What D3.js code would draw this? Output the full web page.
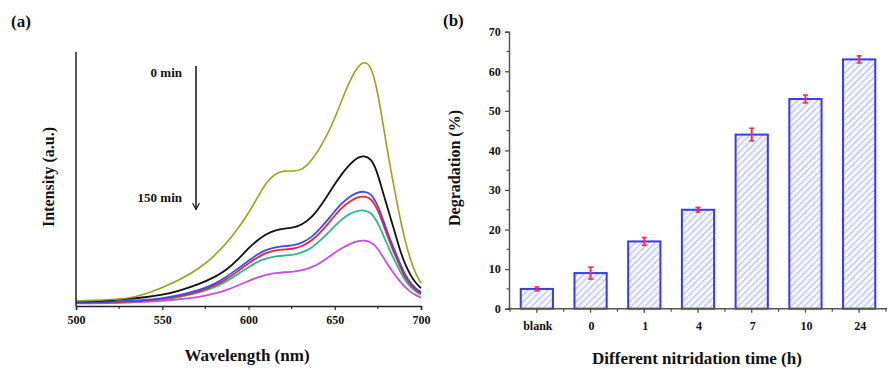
<!DOCTYPE html>
<html><head><meta charset="utf-8">
<script src="https://cdn.jsdelivr.net/npm/d3@7"></script>
<style>body{margin:0;background:#fff}svg{display:block}svg text{font-family:"Liberation Serif","Times New Roman","DejaVu Serif",serif !important;font-weight:bold;fill:#111}</style>
</head><body><svg id="c" width="891" height="374"></svg>
<script>
// ---- Panel (a): emission spectra ----
const wavelengths = [500,510,520,530,540,550,560,572,580,587,594,600,605,610,616,621,626,631,637,643,649,654,659,663,667,671,674,677,680,684,688,691,694,697,700];
const spectrumLabels = ["0 min","30 min","60 min","90 min","120 min","150 min"];
const spectrumColors = ["#9aa21c","#111111","#3b4cf0","#ef2436","#2fb88e","#c84ee0"];
const s0   = [0.020,0.022,0.025,0.030,0.045,0.072,0.102,0.150,0.196,0.245,0.305,0.365,0.425,0.485,0.525,0.533,0.530,0.535,0.575,0.640,0.720,0.810,0.890,0.940,0.965,0.945,0.870,0.760,0.630,0.480,0.340,0.250,0.180,0.125,0.090];
const s30  = [0.018,0.019,0.022,0.028,0.034,0.043,0.060,0.088,0.112,0.140,0.183,0.228,0.258,0.283,0.300,0.305,0.308,0.320,0.350,0.405,0.470,0.520,0.560,0.585,0.592,0.580,0.540,0.470,0.400,0.310,0.215,0.160,0.120,0.090,0.070];
const s60  = [0.014,0.015,0.016,0.020,0.024,0.030,0.042,0.063,0.085,0.113,0.148,0.178,0.203,0.221,0.232,0.236,0.238,0.248,0.272,0.315,0.365,0.405,0.432,0.447,0.452,0.442,0.410,0.360,0.300,0.230,0.165,0.120,0.090,0.068,0.055];
const s90  = [0.012,0.013,0.014,0.017,0.021,0.027,0.038,0.058,0.078,0.104,0.138,0.168,0.191,0.209,0.220,0.223,0.225,0.235,0.258,0.298,0.348,0.388,0.413,0.428,0.433,0.423,0.392,0.343,0.285,0.215,0.153,0.110,0.082,0.062,0.050];
const s120 = [0.011,0.012,0.013,0.016,0.020,0.025,0.035,0.053,0.072,0.096,0.126,0.153,0.173,0.187,0.196,0.199,0.201,0.210,0.230,0.266,0.308,0.342,0.365,0.375,0.378,0.368,0.340,0.298,0.248,0.188,0.135,0.098,0.074,0.056,0.045];
const s150 = [0.010,0.010,0.011,0.013,0.016,0.020,0.026,0.036,0.048,0.062,0.081,0.099,0.112,0.123,0.130,0.133,0.135,0.140,0.152,0.175,0.205,0.228,0.245,0.255,0.259,0.252,0.234,0.205,0.170,0.130,0.095,0.072,0.055,0.042,0.033];
const spectra = [s0,s30,s60,s90,s120,s150];
const wlTicks = [500,550,600,650,700];
const wlMinorTicks = [525,575,625,675];

// ---- Panel (b): degradation bars ----
const categories = ["blank","0","1","4","7","10","24"];
const degradation = [5,9,17,25,44,53,63];
const degradationErr = [0.5,1.5,1.0,0.6,1.6,1.0,0.9];
const degTicks = [0,10,20,30,40,50,60,70];
const degMinorTicks = [5,15,25,35,45,55,65];

const FONT = "Liberation Serif, Times New Roman, DejaVu Serif, serif";
const svg = d3.select("#c");
const defs = svg.append("defs");
const pat = defs.append("pattern").attr("id","hatch").attr("patternUnits","userSpaceOnUse")
  .attr("width",4.7).attr("height",4.7).attr("patternTransform","rotate(45)");
pat.append("rect").attr("width",4.7).attr("height",4.7).attr("fill","#f4f4ff");
pat.append("line").attr("x1",0).attr("y1",0).attr("x2",0).attr("y2",4.7)
  .attr("stroke","#8e8ef0").attr("stroke-width",1.1);

// ===== Panel (a) =====
const xa = d3.scaleLinear().domain([500,700]).range([76,421]);
const ya = d3.scaleLinear().domain([0,1]).range([306,52]);
const ga = svg.append("g");
const line = d3.line().x((d,i)=>xa(wavelengths[i])).y(d=>ya(d)).curve(d3.curveBasis);
spectra.slice().reverse().forEach((s,ri)=>{
  const i = spectra.length-1-ri;
  ga.append("path").attr("d",line(s)).attr("fill","none")
    .attr("stroke",spectrumColors[i]).attr("stroke-width",i===0?1.6:1.8);
});
// axes
const xAxisA = d3.axisBottom(xa).tickValues(wlTicks).tickSize(4).tickFormat(d3.format("d"));
const gxa = ga.append("g").attr("transform","translate(0,306)").call(xAxisA).attr("font-family",FONT);
gxa.select(".domain").attr("stroke","#222").attr("stroke-width",1.5);
gxa.selectAll(".tick line").attr("stroke","#222").attr("stroke-width",1.2);
gxa.selectAll(".tick text").attr("font-size",12).attr("dy","0.9em").attr("fill","#111").attr("font-weight","bold");
gxa.selectAll(".minor").data(wlMinorTicks).enter().append("line")
  .attr("x1",d=>xa(d)).attr("x2",d=>xa(d)).attr("y1",0).attr("y2",3).attr("stroke","#222").attr("stroke-width",1.1);
ga.append("line").attr("x1",76).attr("x2",76).attr("y1",52).attr("y2",306).attr("stroke","#222").attr("stroke-width",1.5);
ga.append("text").attr("x",247).attr("y",361).attr("text-anchor","middle").attr("font-size",17).text("Wavelength (nm)");
ga.append("text").attr("transform","translate(54,177) rotate(-90)").attr("text-anchor","middle").attr("font-size",16).text("Intensity (a.u.)");
ga.append("text").attr("x",11).attr("y",27).attr("font-size",17).text("(a)");
ga.append("text").attr("x",182).attr("y",77).attr("text-anchor","end").attr("font-size",13).text(spectrumLabels[0]);
ga.append("text").attr("x",182).attr("y",202).attr("text-anchor","end").attr("font-size",13).text(spectrumLabels[5]);
// arrow
defs.append("marker").attr("id","arr").attr("viewBox","0 0 10 10").attr("refX",9).attr("refY",5)
  .attr("markerWidth",7).attr("markerHeight",9).attr("orient","auto").attr("markerUnits","userSpaceOnUse")
  .append("path").attr("d","M0,0 L10,5 L0,10").attr("fill","none").attr("stroke","#111").attr("stroke-width",1.6);
ga.append("line").attr("x1",196).attr("x2",196).attr("y1",66).attr("y2",209).attr("stroke","#111").attr("stroke-width",1.5).attr("marker-end","url(#arr)");

// ===== Panel (b) =====
const xb = d3.scaleBand().domain(categories).range([510,886]).padding(0);
const yb = d3.scaleLinear().domain([0,70]).range([308.7,31.7]);
const gb = svg.append("g");
const bw = xb.bandwidth()*0.6;
gb.selectAll(".bar").data(degradation).enter().append("rect")
  .attr("x",(d,i)=>xb(categories[i])+xb.bandwidth()/2-bw/2)
  .attr("y",d=>yb(d)).attr("width",bw).attr("height",d=>yb(0)-yb(d))
  .attr("fill","url(#hatch)").attr("stroke","#3a3af0").attr("stroke-width",2);
// error bars
const eb = gb.selectAll(".err").data(degradation).enter().append("g")
  .attr("transform",(d,i)=>`translate(${xb(categories[i])+xb.bandwidth()/2},0)`);
eb.append("line").attr("x1",0).attr("x2",0).attr("y1",(d,i)=>yb(d+degradationErr[i])).attr("y2",(d,i)=>yb(d-degradationErr[i]))
  .attr("stroke","#f0304a").attr("stroke-width",2);
eb.append("line").attr("x1",-2.5).attr("x2",2.5).attr("y1",(d,i)=>yb(d+degradationErr[i])).attr("y2",(d,i)=>yb(d+degradationErr[i]))
  .attr("stroke","#f0304a").attr("stroke-width",1.6);
eb.append("line").attr("x1",-2.5).attr("x2",2.5).attr("y1",(d,i)=>yb(d-degradationErr[i])).attr("y2",(d,i)=>yb(d-degradationErr[i]))
  .attr("stroke","#f0304a").attr("stroke-width",1.6);
// y axis
const gyb = gb.append("g").attr("transform","translate(509,0)")
  .call(d3.axisLeft(yb).tickValues(degTicks).tickSize(4)).attr("font-family",FONT);
gyb.select(".domain").attr("stroke","#555").attr("stroke-width",1.5);
gyb.selectAll(".tick line").attr("stroke","#444").attr("stroke-width",1.2);
gyb.selectAll(".tick text").attr("font-size",12).attr("fill","#111").attr("dx","-0.1em").attr("font-weight","bold");
gyb.selectAll(".minor").data(degMinorTicks).enter().append("line")
  .attr("x1",0).attr("x2",-2.5).attr("y1",d=>yb(d)).attr("y2",d=>yb(d)).attr("stroke","#444").attr("stroke-width",1.1);
// x axis
const gxb = gb.append("g").attr("transform","translate(0,308.7)");
gxb.append("line").attr("x1",507).attr("x2",887).attr("y1",0).attr("y2",0).attr("stroke","#555").attr("stroke-width",1.5);
gxb.selectAll(".mt").data(categories).enter().append("line")
  .attr("x1",d=>xb(d)+xb.bandwidth()/2).attr("x2",d=>xb(d)+xb.bandwidth()/2).attr("y1",0).attr("y2",4).attr("stroke","#444").attr("stroke-width",1.2);
gxb.selectAll(".nt").data(d3.range(categories.length+1)).enter().append("line")
  .attr("x1",i=>510+i*xb.step()).attr("x2",i=>510+i*xb.step()).attr("y1",0).attr("y2",3).attr("stroke","#444").attr("stroke-width",1.1);
gxb.selectAll(".cl").data(categories).enter().append("text")
  .attr("x",d=>xb(d)+xb.bandwidth()/2+1).attr("y",21).attr("text-anchor","middle").attr("font-size",12).text(d=>d);
gb.append("text").attr("x",697).attr("y",364).attr("text-anchor","middle").attr("font-size",17).text("Different nitridation time (h)");
gb.append("text").attr("transform","translate(460,168) rotate(-90)").attr("text-anchor","middle").attr("font-size",16).text("Degradation (%)");
gb.append("text").attr("x",443).attr("y",26).attr("font-size",17).text("(b)");
</script></body></html>
